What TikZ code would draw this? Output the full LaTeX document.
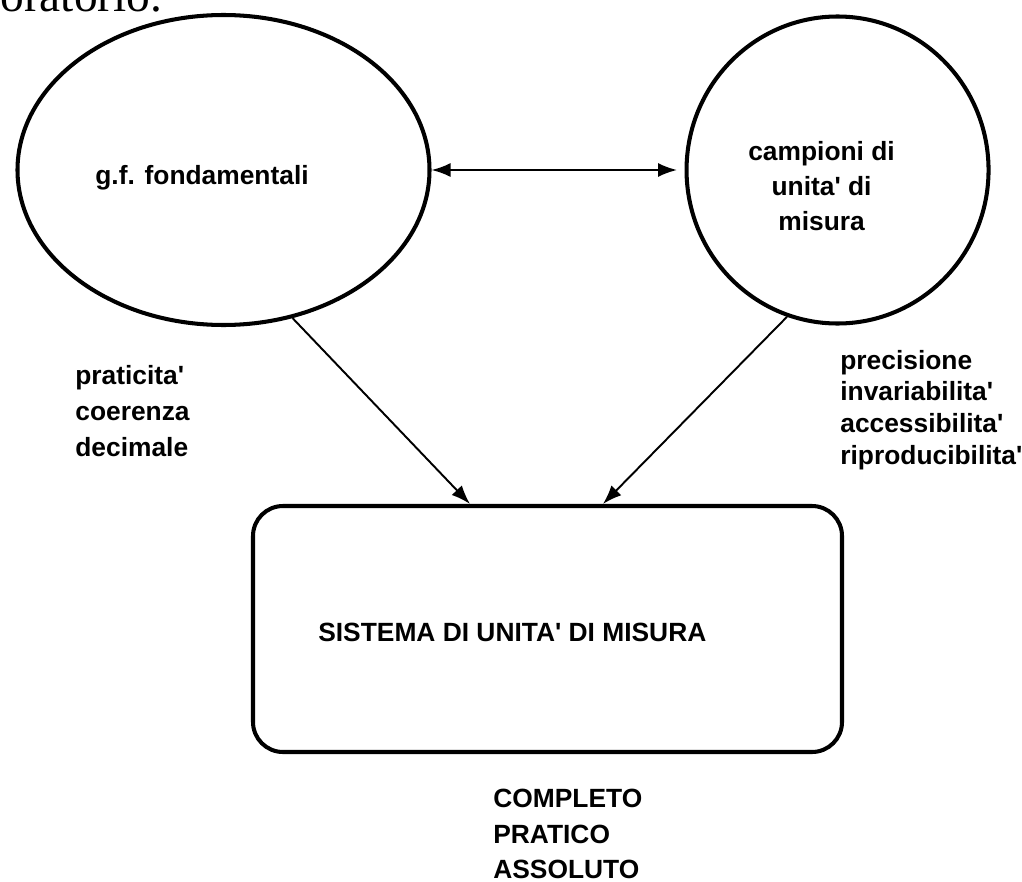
\documentclass[tikz,border=0pt]{standalone}
\usepackage{fontspec}
\setmainfont{Liberation Sans}
\newfontfamily\serifpart{Liberation Serif}
\usetikzlibrary{shapes.geometric, arrows.meta, positioning, calc}
\newcommand{\apostr}{\textquotesingle}

\begin{document}
\begin{tikzpicture}[
    node distance=1.8cm,
    bubble/.style={ellipse, draw=black, line width=2.3pt, inner sep=0pt},
    sysbox/.style={rectangle, draw=black, line width=2.3pt, rounded corners=0.6cm,
                minimum width=11.78cm, minimum height=4.92cm},
    lbl/.style={font=\fontsize{15}{20.4}\selectfont\bfseries, align=left, inner sep=0pt},
    arrow/.style={-{Latex[length=0.38cm, width=0.28cm]}, line width=1.1pt},
    biarrow/.style={{Latex[length=0.38cm, width=0.28cm]}-{Latex[length=0.38cm, width=0.28cm]}, line width=1.1pt}
]
    \useasboundingbox (0,0) rectangle (20.44,-17.64);

    % line of the page above, cut by the border
    \node[font=\serifpart\fontsize{27}{30}\selectfont, anchor=base west, inner sep=0pt] (pageline) at (0,-0.24) {oratorio.};

    \node[bubble, minimum width=8.24cm, minimum height=6.2cm] (fondam) at (4.47,-3.40) {};
    \node[bubble, minimum width=6.04cm, minimum height=6.14cm, right=5.06cm of fondam] (campioni) {};
    \node[sysbox] (sistema) at (10.95,-12.58) {};

    \node[lbl] (fondamtxt) at ([shift={(-0.43,-0.16)}]fondam.center) {g.f. fondamentali};
    \node[lbl, align=center, font=\fontsize{15}{19.9}\selectfont\bfseries] (campionitxt)
        at ([shift={(-0.32,-0.33)}]campioni.center) {campioni di\\unita\apostr{} di\\misura};
    \node[lbl, anchor=west] (sistematxt) at ([shift={(1.34,-0.06)}]sistema.west) {SISTEMA DI UNITA\apostr{} DI MISURA};

    \node[lbl, anchor=west] (leftprops) at (1.5,-8.22) {praticita\apostr\\coerenza\\decimale};
    \node[lbl, anchor=west, font=\fontsize{15}{18.1}\selectfont\bfseries] (rightprops) at (16.8,-8.2)
        {precisione\\invariabilita\apostr\\accessibilita\apostr\\riproducibilita\apostr};
    \node[lbl, anchor=west] (sysprops) at (9.86,-16.68) {COMPLETO\\PRATICO\\ASSOLUTO};

    \draw[arrow] (fondam.-65) -- ([xshift=4.38cm]sistema.north west);
    \draw[arrow] (campioni.-109) -- ([xshift=7.04cm]sistema.north west);
    \draw[biarrow, shorten >=0.15cm] (fondam.east) -- (fondam.east -| campioni.west);
\end{tikzpicture}
\end{document}
